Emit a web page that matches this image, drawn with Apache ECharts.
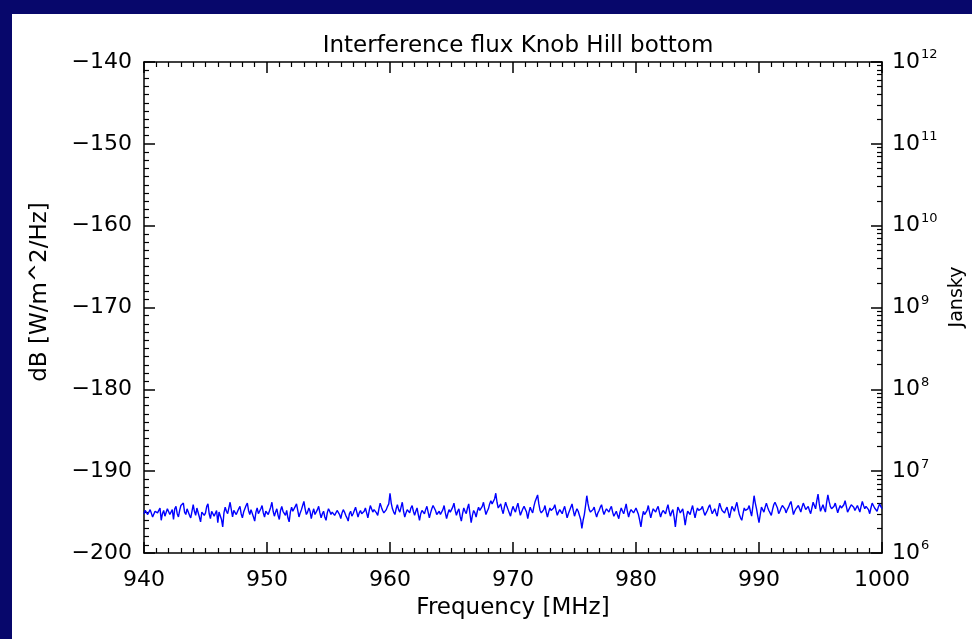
<!DOCTYPE html>
<html>
<head>
<meta charset="utf-8">
<script src="https://cdn.jsdelivr.net/npm/echarts@6/dist/echarts.min.js"></script>
<style>html,body{margin:0;padding:0;background:#07076b;}#c{width:972px;height:639px;}</style>
</head>
<body>
<div id="c"></div>
<script>
// ---- data ----
var titleText = 'Interference flux Knob Hill bottom';
var xName = 'Frequency [MHz]';
var yLeftName = 'dB [W/m^2/Hz]';
var yRightName = 'Jansky';
var freqStart = 940;   // MHz, first sample
var freqStep = 0.1;    // MHz between samples
var xTicks = [940, 950, 960, 970, 980, 990, 1000];
var dbTicks = [-200, -190, -180, -170, -160, -150, -140];
var janskyTicks = [1e6, 1e7, 1e8, 1e9, 1e10, 1e11, 1e12];
var fluxDb = [
-195.2,-194.8,-194.6,-195.3,-195.5,-194.7,-194.9,-195.6,-195.8,-194.9,
-194.7,-195.1,-195.3,-194.5,-196.0,-195.2,-194.8,-195.5,-195.4,-194.6,
-194.5,-195.3,-195.1,-194.7,-195.9,-194.6,-194.3,-195.2,-195.6,-194.8,
-194.2,-194.0,-193.9,-195.0,-195.3,-194.6,-194.8,-195.4,-195.7,-194.9,
-194.1,-194.9,-195.4,-194.5,-194.6,-195.6,-196.2,-195.0,-194.9,-195.4,
-195.1,-194.3,-194.0,-195.2,-195.8,-194.9,-194.7,-195.5,-195.3,-194.8,
-196.3,-195.0,-194.8,-195.9,-196.8,-195.1,-194.4,-194.9,-195.2,-194.5,
-193.8,-194.7,-195.6,-194.8,-194.9,-195.3,-195.4,-194.6,-194.3,-195.2,
-195.7,-195.0,-194.6,-194.2,-193.9,-194.8,-195.3,-194.7,-194.8,-195.6,
-196.1,-195.0,-194.5,-195.2,-195.0,-194.6,-194.2,-195.1,-195.6,-194.9,
-194.7,-195.3,-195.2,-194.4,-193.8,-194.9,-195.5,-195.0,-194.6,-195.4,
-195.9,-194.8,-194.3,-194.9,-195.0,-195.4,-194.8,-195.7,-196.2,-195.0,
-194.4,-194.9,-195.1,-194.3,-194.0,-194.8,-195.6,-195.1,-194.7,-194.2,
-193.7,-194.6,-195.3,-195.0,-194.5,-194.9,-195.8,-195.1,-194.6,-195.3,
-195.2,-194.7,-194.3,-195.1,-195.7,-195.2,-194.9,-195.6,-196.0,-195.1,
-194.6,-194.9,-195.3,-195.0,-194.8,-195.4,-195.5,-194.8,-195.0,-195.3,
-195.8,-195.1,-194.7,-195.0,-195.4,-195.7,-196.1,-195.2,-194.9,-195.5,
-195.2,-194.8,-194.4,-195.0,-195.6,-195.1,-194.8,-195.2,-195.3,-194.9,
-194.5,-195.1,-195.7,-194.9,-194.2,-194.6,-195.0,-194.7,-194.6,-195.1,
-195.4,-194.6,-193.9,-194.4,-194.8,-195.1,-195.2,-194.7,-194.3,-194.0,
-192.7,-193.9,-194.6,-195.0,-195.3,-194.6,-194.1,-194.7,-195.0,-194.4,
-193.8,-194.9,-195.6,-195.1,-194.7,-194.9,-195.1,-194.5,-194.2,-194.9,
-195.4,-194.9,-194.5,-195.3,-196.0,-195.2,-194.8,-195.0,-195.2,-194.7,
-194.3,-195.0,-195.7,-195.1,-194.6,-194.2,-194.0,-194.8,-195.3,-195.1,
-194.9,-195.3,-195.5,-194.7,-194.2,-195.1,-195.8,-195.2,-194.7,-195.0,
-195.1,-194.4,-193.9,-194.8,-195.4,-194.9,-194.6,-195.5,-196.1,-195.2,
-194.5,-194.9,-195.2,-194.5,-194.0,-195.2,-196.3,-195.4,-194.8,-195.1,
-195.6,-194.9,-194.4,-194.8,-195.0,-194.3,-193.8,-194.6,-195.3,-194.9,
-194.6,-194.0,-193.6,-194.0,-194.2,-193.4,-192.7,-193.8,-194.5,-194.3,
-194.0,-194.7,-195.2,-194.4,-193.8,-194.3,-194.7,-195.1,-195.5,-194.8,
-194.3,-194.7,-195.0,-194.4,-193.9,-194.7,-195.4,-195.0,-194.6,-194.3,
-194.1,-195.0,-195.8,-195.0,-194.4,-194.8,-195.1,-194.3,-193.7,-193.3,
-192.9,-194.0,-194.8,-195.1,-195.3,-194.7,-194.2,-195.0,-195.6,-195.0,
-194.5,-194.8,-195.0,-194.5,-194.1,-194.8,-195.4,-195.0,-194.7,-194.9,
-195.2,-194.7,-194.3,-195.0,-195.7,-195.2,-194.8,-194.4,-194.0,-194.8,
-195.5,-195.0,-194.6,-194.9,-195.1,-195.9,-197.0,-196.0,-195.3,-194.2,
-193.0,-194.0,-194.7,-195.0,-195.2,-194.7,-194.4,-195.1,-195.6,-195.1,
-194.8,-194.4,-194.1,-194.8,-195.3,-194.9,-194.6,-194.8,-195.0,-194.6,
-194.3,-195.0,-195.5,-195.2,-194.9,-195.4,-195.8,-195.0,-194.5,-194.9,
-195.2,-194.6,-194.0,-194.9,-195.6,-195.0,-194.7,-194.9,-195.1,-194.8,
-194.5,-194.9,-195.3,-196.0,-196.8,-195.7,-194.9,-195.3,-195.4,-194.8,
-194.2,-195.0,-195.7,-195.1,-194.6,-194.8,-195.0,-194.6,-194.3,-195.0,
-195.6,-195.1,-194.8,-195.0,-195.2,-194.6,-194.1,-194.9,-195.5,-195.0,
-194.7,-195.6,-196.8,-195.5,-194.4,-194.7,-195.1,-194.9,-194.6,-195.5,
-196.6,-195.6,-194.9,-195.1,-195.3,-194.7,-194.2,-195.0,-195.7,-195.0,
-194.5,-194.8,-195.0,-194.6,-194.3,-194.9,-195.4,-195.1,-194.8,-194.4,
-194.1,-194.7,-195.2,-194.9,-194.6,-195.1,-195.5,-194.6,-193.9,-194.4,
-194.8,-195.0,-195.1,-194.7,-194.4,-195.0,-195.7,-195.0,-194.3,-194.6,
-194.9,-194.3,-193.8,-194.6,-195.3,-195.7,-196.0,-195.2,-194.5,-194.8,
-195.0,-194.6,-194.2,-194.9,-195.5,-194.3,-193.0,-193.9,-194.6,-195.5,
-196.3,-195.3,-194.4,-194.7,-195.0,-194.4,-193.9,-194.4,-194.8,-195.1,
-195.4,-194.7,-194.1,-193.8,-193.6,-194.5,-195.2,-194.9,-194.5,-194.2,
-194.0,-194.6,-195.1,-194.7,-194.4,-194.0,-193.7,-194.5,-195.3,-194.9,
-194.6,-194.4,-194.2,-194.6,-195.0,-194.4,-193.9,-194.3,-194.7,-194.5,
-194.3,-194.8,-195.2,-194.5,-193.8,-194.2,-194.6,-193.6,-192.8,-194.0,
-194.9,-194.5,-194.1,-194.6,-195.0,-193.8,-192.9,-193.7,-194.3,-194.6,
-194.8,-194.3,-193.9,-194.5,-195.1,-194.6,-194.2,-194.5,-194.7,-194.1,
-193.6,-194.3,-195.0,-194.7,-194.4,-194.1,-193.9,-194.4,-194.8,-194.5,
-194.2,-194.6,-195.0,-194.3,-193.7,-194.2,-194.6,-194.3,-194.1,-194.7,
-195.2,-194.5,-193.9,-194.2,-194.5,-194.7,-194.9,-194.4,-194.0,-194.3,
-194.6
];

// ---- build ----
var seriesData = fluxDb.map(function (v, i) { return [freqStart + i * freqStep, v]; });
var janskyMinor = [];
for (var d = 0; d < janskyTicks.length - 1; d++) {
  for (var k = 2; k <= 9; k++) janskyMinor.push(janskyTicks[d] * k);
}
var FONT = 'DejaVu Sans';
var BLACK = '#000';
var chart = echarts.init(document.getElementById('c'), null, {renderer: 'canvas'});
var minus = function (v) { return String(v).replace('-', '\u2212'); };

chart.setOption({
  backgroundColor: '#07076b',
  animation: false,
  graphic: [{
    type: 'rect', z: -10, silent: true,
    shape: {x: 12, y: 14, width: 972 - 12, height: 639 - 14},
    style: {fill: '#ffffff'}
  }, {
    type: 'text', x: 513, y: 608, silent: true,
    style: {text: xName, fontFamily: FONT, fontSize: 23, fill: BLACK, align: 'center', verticalAlign: 'middle'}
  }, {
    type: 'text', x: 40, y: 292, rotation: Math.PI / 2, silent: true,
    style: {text: yLeftName, fontFamily: FONT, fontSize: 23, fill: BLACK, align: 'center', verticalAlign: 'middle'}
  }, {
    type: 'text', x: 957, y: 297, rotation: Math.PI / 2, silent: true,
    style: {text: yRightName, fontFamily: FONT, fontSize: 19, fill: BLACK, align: 'center', verticalAlign: 'middle'}
  }],
  title: {
    text: titleText, left: 513, top: 30, textAlign: 'center',
    textStyle: {fontFamily: FONT, fontWeight: 'normal', fontSize: 23, color: BLACK}
  },
  grid: {left: 144, right: 90, top: 62, bottom: 86, containLabel: false},
  xAxis: [{
    type: 'value', min: 940, max: 1000, interval: 10, position: 'bottom',
    axisLine: {show: true, onZero: false, lineStyle: {color: BLACK, width: 1.5}},
    axisTick: {show: true, inside: true, length: 11, lineStyle: {color: BLACK, width: 1.5}},
    minorTick: {show: true, splitNumber: 10, length: 5, lineStyle: {color: BLACK, width: 1.2}},
    axisLabel: {fontFamily: FONT, fontSize: 22, color: BLACK, margin: 16,
      customValues: xTicks, formatter: function (v) { return String(v); }},
    splitLine: {show: false}
  }, {
    type: 'value', min: 940, max: 1000, interval: 10, position: 'top',
    axisLine: {show: true, onZero: false, lineStyle: {color: BLACK, width: 1.5}},
    axisTick: {show: true, inside: true, length: 11, lineStyle: {color: BLACK, width: 1.5}},
    minorTick: {show: true, splitNumber: 10, length: 5, lineStyle: {color: BLACK, width: 1.2}},
    axisLabel: {show: false},
    splitLine: {show: false}
  }],
  yAxis: [{
    type: 'value', min: -200, max: -140, interval: 10, position: 'left',
    axisLine: {show: true, onZero: false, lineStyle: {color: BLACK, width: 1.5}},
    axisTick: {show: true, inside: true, length: 11, lineStyle: {color: BLACK, width: 1.5}},
    minorTick: {show: true, splitNumber: 10, length: 5, lineStyle: {color: BLACK, width: 1.2}},
    axisLabel: {fontFamily: FONT, fontSize: 22, color: BLACK, margin: 12,
      customValues: dbTicks, formatter: function (v) { return minus(v); }},
    splitLine: {show: false}
  }, {
    type: 'log', logBase: 10, min: 1e6, max: 1e12, position: 'right',
    axisLine: {show: true, onZero: false, lineStyle: {color: BLACK, width: 1.5}},
    axisTick: {show: true, inside: true, length: 11, customValues: janskyTicks, lineStyle: {color: BLACK, width: 1.5}},
    axisLabel: {color: BLACK, margin: 10, customValues: janskyTicks,
      formatter: function (v) {
        var e = Math.round(Math.log10(v));
        return '{b|10}{s|' + e + '}';
      },
      rich: {
        b: {fontFamily: FONT, fontSize: 22, color: BLACK},
        s: {fontFamily: FONT, fontSize: 13, color: BLACK, padding: [0, 0, 14, 1]}
      }},
    splitLine: {show: false}
  }, {
    type: 'log', logBase: 10, min: 1e6, max: 1e12, position: 'right',
    axisLine: {show: false},
    axisTick: {show: true, inside: true, length: 5, customValues: janskyMinor, lineStyle: {color: BLACK, width: 1.2}},
    axisLabel: {show: false},
    splitLine: {show: false}
  }],
  series: [{
    type: 'line', xAxisIndex: 0, yAxisIndex: 0,
    data: seriesData, showSymbol: false, symbol: 'none',
    lineStyle: {color: '#0000ff', width: 1.4}
  }]
});
</script>
</body>
</html>
